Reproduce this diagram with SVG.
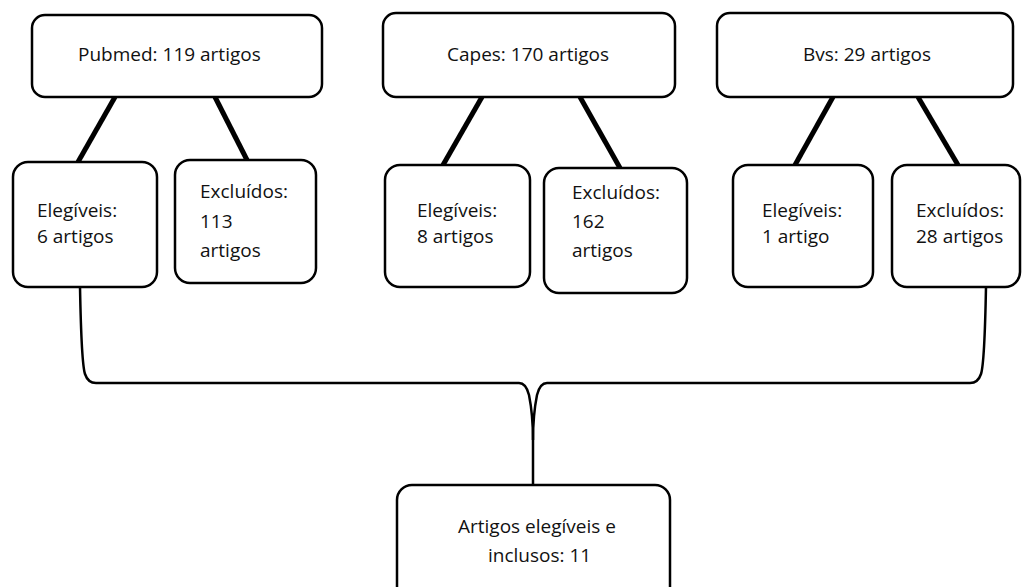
<svg xmlns="http://www.w3.org/2000/svg" width="1022" height="587" viewBox="0 0 1022 587">
<style>
.box{fill:#fff;stroke:#000;stroke-width:2.5}
.t{font-family:"Open Sans","Noto Sans",sans-serif;font-size:19px;fill:#111}
.c{fill:none;stroke:#000;stroke-width:5}
.b{fill:none;stroke:#000;stroke-width:2.5}
</style>
<rect width="1022" height="587" fill="#fff"/>
<g id="connectors">
<line class="c" x1="115" y1="97" x2="78" y2="162"/>
<line class="c" x1="215" y1="97" x2="247" y2="160"/>
<line class="c" x1="482" y1="97" x2="443" y2="165"/>
<line class="c" x1="580" y1="97" x2="620" y2="168"/>
<line class="c" x1="833" y1="97" x2="795" y2="165"/>
<line class="c" x1="918" y1="97" x2="958" y2="165"/>
<path class="b" d="M80 287 C81 340 82 365 85 374 Q88 383 96 383 L519 383 Q526 383 529 395 Q533 415 533 440 L533 486"/>
<path class="b" d="M533 440 Q533 415 537 395 Q540 383 547 383 L970 383 Q978 383 981 374 C984 365 985 340 986 287"/>
</g>
<g id="pubmed"><rect class="box" x="32" y="15" width="290" height="82" rx="13"/><text class="t" x="78" y="61">Pubmed: 119 artigos</text></g>
<g id="pubmed-eleg"><rect class="box" x="13" y="162" width="144" height="125" rx="15"/><text class="t" x="37" y="217">Elegíveis:</text><text class="t" x="37" y="243">6 artigos</text></g>
<g id="pubmed-excl"><rect class="box" x="175" y="160" width="141" height="123" rx="15"/><text class="t" x="200" y="198">Excluídos:</text><text class="t" x="200" y="228">113</text><text class="t" x="200" y="257">artigos</text></g>
<g id="capes"><rect class="box" x="383" y="13" width="292" height="84" rx="13"/><text class="t" x="447" y="61">Capes: 170 artigos</text></g>
<g id="capes-eleg"><rect class="box" x="385" y="165" width="145" height="122" rx="15"/><text class="t" x="417" y="217">Elegíveis:</text><text class="t" x="417" y="243">8 artigos</text></g>
<g id="capes-excl"><rect class="box" x="544" y="168" width="143" height="125" rx="15"/><text class="t" x="572" y="199">Excluídos:</text><text class="t" x="572" y="228">162</text><text class="t" x="572" y="257">artigos</text></g>
<g id="bvs"><rect class="box" x="717" y="13" width="296" height="84" rx="13"/><text class="t" x="803" y="61">Bvs: 29 artigos</text></g>
<g id="bvs-eleg"><rect class="box" x="733" y="165" width="140" height="122" rx="15"/><text class="t" x="762" y="217">Elegíveis:</text><text class="t" x="762" y="243">1 artigo</text></g>
<g id="bvs-excl"><rect class="box" x="892" y="165" width="128" height="122" rx="15"/><text class="t" x="916" y="217">Excluídos:</text><text class="t" x="916" y="243">28 artigos</text></g>
<g id="final"><rect class="box" x="397" y="485" width="273" height="120" rx="15"/><text class="t" x="458" y="533">Artigos elegíveis e</text><text class="t" x="488" y="562">inclusos: 11</text></g>
</svg>
